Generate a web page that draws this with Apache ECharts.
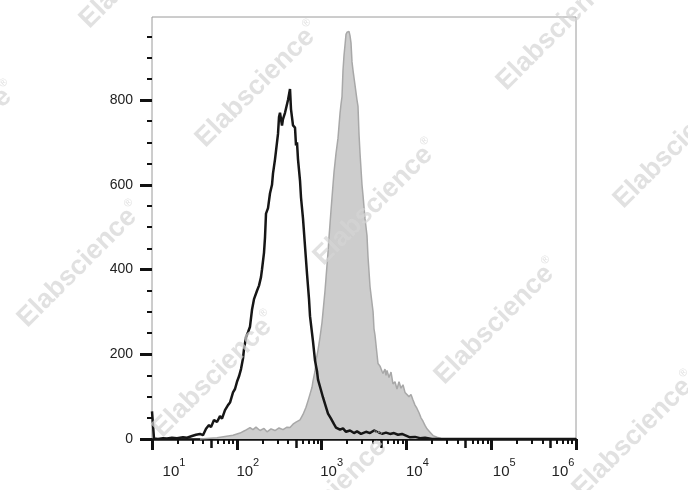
<!DOCTYPE html>
<html><head><meta charset="utf-8">
<script src="https://cdn.jsdelivr.net/npm/echarts@6/dist/echarts.min.js"></script>
<style>html,body{margin:0;padding:0;background:#fff}#c{width:688px;height:490px}</style>
</head><body><div id="c"></div>
<script>
// Isotype control (black outline)
const isoX = [10, 10.56, 11.77, 13.48, 15.03, 17.21, 19.71, 23.2, 25.86, 29.64, 33.03, 36.81, 39.94, 43.35, 47.01, 49.63, 53.85, 58.42, 63.38, 66.92, 72.59, 78.75, 83.15, 90.22, 95.24, 100.5, 106.2, 112.1, 118.3, 121.6, 128.4, 135.6, 143.1, 151.1, 159.5, 173.1, 182.7, 192.9, 198.2, 209.4, 215.1, 221.0, 233.4, 246.4, 260.1, 267.3, 282.2, 290.0, 306.1, 314.6, 323.1, 341.2, 350.6, 370.2, 380.4, 401.6, 424.1, 435.7, 460.0, 485.8, 499.1, 512.9, 526.9, 556.4, 571.7, 603.6, 637.3, 672.9, 710.5, 730.1, 770.9, 792.1, 836.3, 883.0, 907.2, 983.8, 1039, 1127, 1190, 1291, 1401, 1479, 1561, 1648, 1788, 1940, 2162, 2410, 2616, 2915, 3339, 3723, 4149, 4626, 5157, 5747, 6407, 7142, 7960, 8873, 9892, 11030, 12630, 14470, 16570, 20040, 32680, 1000000];
const isoY = [65, 1, 0, 2, 1, 3, 2, 4, 3, 7, 10, 12, 9, 24, 33, 28, 45, 40, 54, 48, 68, 80, 86, 110, 118, 135, 148, 165, 190, 212, 240, 252, 265, 305, 330, 350, 362, 382, 400, 440, 476, 532, 545, 580, 600, 627, 660, 680, 720, 760, 770, 740, 755, 770, 768, 800, 826, 778, 740, 735, 693, 700, 660, 610, 570, 520, 455, 390, 330, 290, 250, 230, 185, 160, 140, 115, 98, 75, 60, 48, 35, 27, 30, 22, 25, 17, 20, 14, 18, 12, 17, 14, 20, 16, 12, 15, 12, 14, 10, 12, 8, 4, 5, 2, 3, 0, 0, 0];
// Stained sample (grey filled)
const stainX = [36.81, 48.3, 58.42, 72.59, 90.22, 109.1, 124.9, 143.1, 155.2, 168.4, 187.8, 209.4, 227.1, 253.2, 282.2, 314.6, 350.6, 390.8, 424.1, 460.0, 499.1, 556.4, 603.6, 654.6, 691.3, 730.1, 770.9, 792.1, 836.3, 859.0, 907.2, 957.5, 1011, 1039, 1097, 1127, 1190, 1223, 1291, 1363, 1401, 1479, 1561, 1648, 1693, 1740, 1788, 1837, 1888, 1940, 1993, 2048, 2105, 2162, 2222, 2283, 2346, 2477, 2616, 2687, 2761, 2837, 2995, 3078, 3250, 3431, 3526, 3723, 4047, 4149, 4263, 4501, 4626, 4884, 5157, 5297, 5592, 5747, 5905, 6234, 6583, 6950, 7338, 7747, 8179, 8636, 9118, 9627, 10160, 10730, 11330, 11960, 12630, 13330, 14080, 14860, 15690, 16570, 17500, 18980, 20600, 22960, 25590, 28520];
const stainY = [0, 2, 3, 6, 9, 14, 20, 27, 22, 28, 20, 25, 17, 24, 20, 26, 22, 28, 27, 35, 40, 45, 58, 75, 90, 106, 122, 137, 160, 185, 210, 240, 275, 300, 350, 380, 440, 476, 540, 600, 630, 674, 710, 768, 790, 808, 870, 905, 930, 955, 960, 962, 962, 952, 935, 890, 870, 835, 800, 785, 720, 675, 600, 575, 520, 480, 430, 360, 300, 260, 245, 200, 178, 172, 160, 155, 165, 150, 162, 145, 158, 130, 135, 118, 135, 120, 128, 110, 112, 100, 105, 92, 80, 72, 62, 50, 42, 32, 24, 16, 8, 4, 1, 0];
// Axis ticks and labels
const yMajorTicks = [0, 200, 400, 600, 800];
const yMinorTicks = [50, 100, 150, 250, 300, 350, 450, 500, 550, 650, 700, 750, 850, 900, 950];
const xDecadeTicks = [10, 100, 1000, 10000, 100000, 1000000];
const xDecadeExps = ['1', '2', '3', '4', '5', '6'];
const xFiveTicks = [50, 500, 5000, 50000, 500000];
const xMinorTicks = [20, 30, 40, 60, 70, 80, 90, 200, 300, 400, 600, 700, 800, 900, 2000, 3000, 4000, 6000, 7000, 8000, 9000, 20000, 30000, 40000, 60000, 70000, 80000, 90000, 200000, 300000, 400000, 600000, 700000, 800000, 900000];
const watermarkText = 'Elabscience';

const chart = echarts.init(document.getElementById('c'), null, {renderer: 'canvas'});
const pair = (xs, ys) => xs.map((x, i) => [x, ys[i]]);
const labelShift = [22, 11, 10, 11, 13, -13];
const rich = {};
labelShift.forEach((s, i) => {
  rich['b' + i] = {fontSize: 15, fontFamily: 'Liberation Sans', color: '#222', lineHeight: 22, verticalAlign: 'bottom',
    padding: s > 0 ? [0, 0, 0, 2 * s] : [0, 0, 0, 0]};
  rich['s' + i] = {fontSize: 11, fontFamily: 'Liberation Sans', color: '#222', lineHeight: 22, verticalAlign: 'top',
    padding: s < 0 ? [0, -2 * s, 0, 0] : [0, 0, 0, 0]};
});
const baseX = {type: 'log', logBase: 10, min: 10, max: 1000000, gridIndex: 0, position: 'bottom',
  splitLine: {show: false}, axisLine: {show: false}, axisLabel: {show: false}};
function tickAxis(values, len, w) {
  return Object.assign({}, baseX, {axisTick: {show: true, customValues: values, length: len, lineStyle: {color: '#111', width: w}}});
}
const wm = [[142, -34], [-45, 145], [258, 85], [559, 28], [376, 203], [676, 146], [80, 265], [497, 322], [215, 375], [330, 495], [635, 435]];
const option = {
  animation: false,
  backgroundColor: '#fff',
  grid: {left: 152, right: 112, top: 17, bottom: 51, show: true, borderColor: '#9a9a9a', borderWidth: 1, backgroundColor: 'transparent'},
  xAxis: [
    Object.assign({}, baseX, {
      axisLine: {show: true, onZero: false, lineStyle: {color: '#111', width: 2.5}},
      axisTick: {show: true, customValues: xDecadeTicks, length: 11, lineStyle: {color: '#111', width: 3}},
      axisLabel: {show: true, customValues: xDecadeTicks, margin: 18, rich: rich,
        formatter: (v) => { const i = Math.round(Math.log10(v)) - 1; return '{b' + i + '|10}{s' + i + '|' + xDecadeExps[i] + '}'; }}
    }),
    tickAxis(xFiveTicks, 9, 2.5),
    tickAxis(xMinorTicks, 5, 2)
  ],
  yAxis: [
    {type: 'value', position: 'left', min: 0, max: 996, splitLine: {show: false}, axisLine: {show: false},
      axisTick: {show: true, customValues: yMajorTicks, length: 12, lineStyle: {color: '#111', width: 3}},
      axisLabel: {customValues: yMajorTicks, margin: 19, fontSize: 14, fontFamily: 'Liberation Sans', color: '#222'}},
    {type: 'value', position: 'left', min: 0, max: 996, splitLine: {show: false}, axisLine: {show: false},
      axisTick: {show: true, customValues: yMinorTicks, length: 5, lineStyle: {color: '#111', width: 2}},
      axisLabel: {show: false}}
  ],
  graphic: wm.map(p => ({
    type: 'text', x: p[0], y: p[1], rotation: Math.PI / 4, z: 100, silent: true,
    style: {text: '{a|' + watermarkText + '}{r|®}', align: 'center', verticalAlign: 'middle',
      rich: {a: {fontSize: 27, fontWeight: 'bold', fontFamily: 'Liberation Sans', fill: 'rgba(212,212,212,0.7)', lineHeight: 30},
             r: {fontSize: 11, fontFamily: 'Liberation Sans', fill: 'rgba(212,212,212,0.7)', verticalAlign: 'top', lineHeight: 30}}}
  })),
  series: [
    {type: 'line', name: 'stained', data: pair(stainX, stainY), showSymbol: false, z: 1,
      lineStyle: {color: '#a8a8a8', width: 1.5}, areaStyle: {color: '#cdcdcd', opacity: 1}},
    {type: 'line', name: 'isotype', data: pair(isoX, isoY), showSymbol: false, z: 3,
      lineStyle: {color: '#161616', width: 2.5}}
  ]
};
chart.setOption(option);
</script>
</body></html>
